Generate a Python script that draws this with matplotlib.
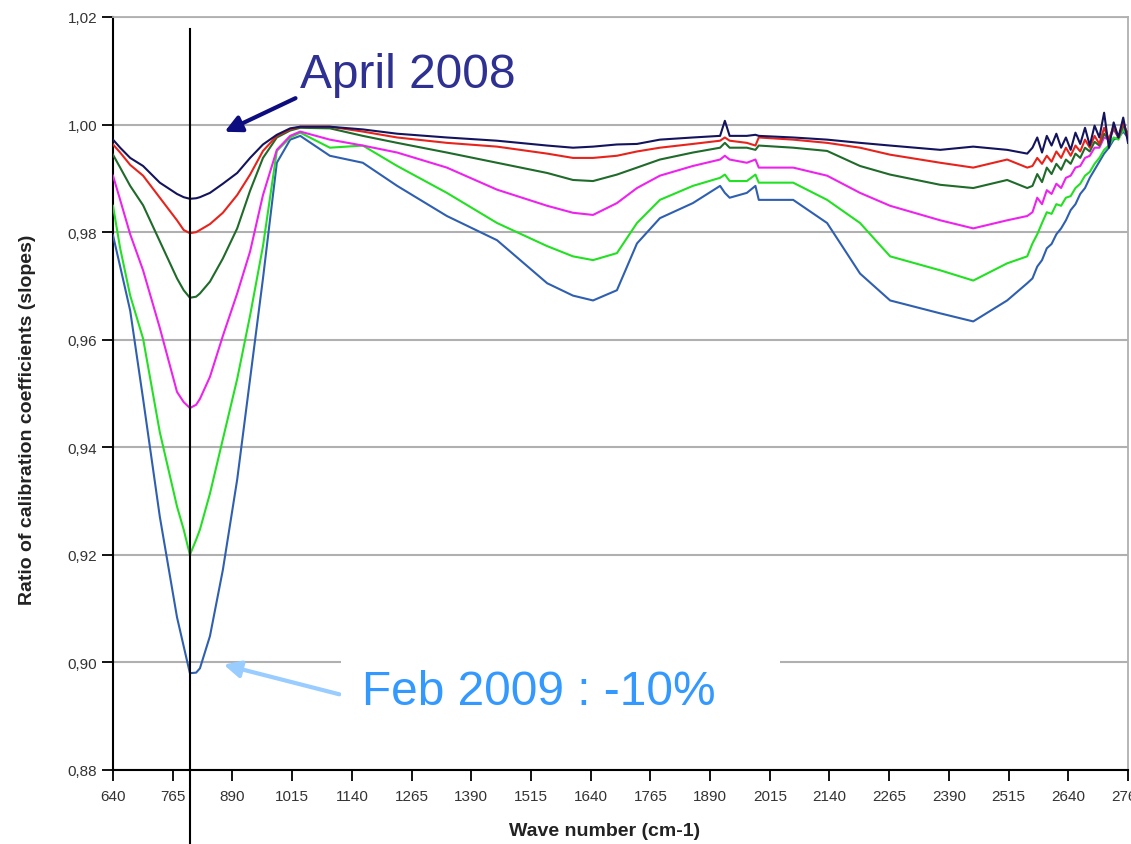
import matplotlib
matplotlib.use("Agg")
import matplotlib.pyplot as plt
import matplotlib.transforms as mtransforms
from matplotlib.patches import Rectangle

plt.rcParams['font.family'] = ['Liberation Sans', 'DejaVu Sans']

# wave numbers (cm-1) shared by all series
wave = [640, 655, 676, 703, 738, 774, 788, 801, 814, 822, 843, 870, 900, 927, 954, 983,
        1011, 1032, 1094, 1163, 1235, 1339, 1444, 1549, 1603, 1645, 1695, 1737,
        1785, 1854, 1911, 1921, 1931, 1967, 1985, 1992, 2064, 2135, 2204, 2267,
        2372, 2441, 2512, 2554,
        2565, 2575, 2585, 2595, 2605, 2615, 2625, 2635, 2645, 2655, 2665, 2675,
        2685, 2695, 2705, 2715, 2725, 2735, 2745, 2755, 2765]

apr_2008 = [0.9972, 0.9957, 0.9938, 0.9923, 0.9892, 0.9871, 0.9865, 0.9862, 0.9863, 0.9865,
            0.9873, 0.9890,
            0.9910, 0.9938, 0.9963, 0.9981, 0.9993, 0.9996, 0.9996, 0.9991, 0.9983, 0.9976,
            0.9970, 0.9961, 0.9957, 0.9959, 0.9963, 0.9964, 0.9972, 0.9976, 0.9979, 1.0007,
            0.9979, 0.9979, 0.9981, 0.9979, 0.9976, 0.9972, 0.9966, 0.9961, 0.9953, 0.9959,
            0.9953, 0.9946,
            0.9957, 0.9976, 0.9948, 0.9979, 0.9961, 0.9983, 0.9957, 0.9976, 0.9953, 0.9985,
            0.9964, 0.9994, 0.9961, 0.9998, 0.9976, 1.0022, 0.9957, 1.0004, 0.9976, 1.0013,
            0.9966]

series_2 = [0.9963, 0.9948, 0.9925, 0.9905, 0.9864, 0.9822, 0.9804, 0.9798, 0.9800, 0.9804,
            0.9815, 0.9836,
            0.9869, 0.9907, 0.9951, 0.9979, 0.9991, 0.9996, 0.9996, 0.9987, 0.9976, 0.9966,
            0.9959, 0.9946, 0.9938, 0.9938, 0.9942, 0.9950, 0.9957, 0.9964, 0.9970, 0.9976,
            0.9970, 0.9966, 0.9961, 0.9976, 0.9972, 0.9966, 0.9957, 0.9944, 0.9929, 0.9920,
            0.9935, 0.9920,
            0.9923, 0.9938, 0.9927, 0.9942, 0.9931, 0.9950, 0.9938, 0.9957, 0.9942, 0.9961,
            0.9950, 0.9972, 0.9957, 0.9979, 0.9964, 0.9994, 0.9972, 0.9998, 0.9976, 1.0004,
            0.9979]

series_3 = [0.9944, 0.9920, 0.9886, 0.9850, 0.9783, 0.9714, 0.9692, 0.9678, 0.9680, 0.9686,
            0.9708, 0.9751,
            0.9807, 0.9877, 0.9938, 0.9976, 0.9989, 0.9994, 0.9993, 0.9979, 0.9966, 0.9948,
            0.9929, 0.9910, 0.9897, 0.9895, 0.9907, 0.9920, 0.9935, 0.9948, 0.9957, 0.9966,
            0.9957, 0.9957, 0.9953, 0.9961, 0.9957, 0.9951, 0.9923, 0.9907, 0.9888, 0.9882,
            0.9897, 0.9882,
            0.9886, 0.9908, 0.9893, 0.9920, 0.9908, 0.9927, 0.9916, 0.9935, 0.9927, 0.9946,
            0.9938, 0.9957, 0.9950, 0.9968, 0.9961, 0.9983, 0.9972, 0.9994, 0.9976, 0.9998,
            0.9983]

series_4 = [0.9905, 0.9860, 0.9796, 0.9729, 0.9622, 0.9503, 0.9484, 0.9473, 0.9479, 0.9490,
            0.9531, 0.9607,
            0.9686, 0.9764, 0.9869, 0.9953, 0.9979, 0.9987, 0.9972, 0.9961, 0.9948, 0.9920,
            0.9879, 0.9849, 0.9836, 0.9832, 0.9854, 0.9882, 0.9905, 0.9923, 0.9935, 0.9942,
            0.9935, 0.9929, 0.9935, 0.9920, 0.9920, 0.9905, 0.9873, 0.9849, 0.9822, 0.9807,
            0.9822, 0.9830,
            0.9837, 0.9864, 0.9852, 0.9878, 0.9871, 0.9890, 0.9882, 0.9901, 0.9905, 0.9920,
            0.9923, 0.9938, 0.9942, 0.9957, 0.9957, 0.9976, 0.9972, 0.9991, 0.9976, 0.9998,
            0.9983]

series_5 = [0.9849, 0.9770, 0.9682, 0.9602, 0.9428, 0.9290, 0.9247, 0.9200, 0.9228, 0.9247,
            0.9314, 0.9415,
            0.9527, 0.9645, 0.9774, 0.9951, 0.9976, 0.9985, 0.9957, 0.9961, 0.9923, 0.9873,
            0.9817, 0.9774, 0.9755, 0.9748, 0.9761, 0.9817, 0.9860, 0.9886, 0.9901, 0.9907,
            0.9895, 0.9895, 0.9907, 0.9892, 0.9892, 0.9860, 0.9817, 0.9755, 0.9729, 0.9710,
            0.9742, 0.9755,
            0.9779, 0.9796, 0.9817, 0.9837, 0.9834, 0.9852, 0.9849, 0.9864, 0.9867, 0.9882,
            0.9890, 0.9905, 0.9912, 0.9927, 0.9938, 0.9953, 0.9961, 0.9976, 0.9972, 0.9991,
            0.9979]

feb_2009 = [0.9794, 0.9736, 0.9654, 0.9490, 0.9271, 0.9084, 0.9030, 0.8980, 0.8981, 0.8989,
            0.9049, 0.9172,
            0.9340, 0.9527, 0.9714, 0.9929, 0.9972, 0.9979, 0.9942, 0.9929, 0.9886, 0.9830,
            0.9785, 0.9705, 0.9682, 0.9673, 0.9692, 0.9779, 0.9826, 0.9854, 0.9886, 0.9873,
            0.9864, 0.9873, 0.9886, 0.9860, 0.9860, 0.9817, 0.9723, 0.9673, 0.9649, 0.9634,
            0.9673, 0.9705,
            0.9714, 0.9736, 0.9748, 0.9770, 0.9778, 0.9796, 0.9807, 0.9822, 0.9841, 0.9852,
            0.9871, 0.9882, 0.9901, 0.9916, 0.9931, 0.9946, 0.9957, 0.9972, 0.9976, 0.9987,
            0.9976]

tick_waves = [640, 765, 890, 1015, 1140, 1265, 1390, 1515, 1640, 1765, 1890,
              2015, 2140, 2265, 2390, 2515, 2640, 2765]
y_ticks = [0.88, 0.90, 0.92, 0.94, 0.96, 0.98, 1.00, 1.02]
marker_wave = 801

fig = plt.figure(figsize=(11.31, 8.45), dpi=100)
ax = fig.add_axes([113 / 1131, 1 - 771 / 845, 1015 / 1131, 753 / 845])

# newest series first so the April 2008 curve sits on top
curves = [(feb_2009, '#2f5fb0'), (series_5, '#22e022'), (series_4, '#ee22ee'),
          (series_3, '#1f6b2a'), (series_2, '#e8231c'), (apr_2008, '#14145e')]
for vals, col in curves:
    ax.plot(wave, vals, color=col, lw=1.5, zorder=3)

ax.set_xlim(640, 2765)
ax.set_ylim(0.88, 1.02)
ax.set_xticks(tick_waves)
ax.set_xticklabels([str(t) for t in tick_waves])
ax.set_yticks(y_ticks)
ax.set_yticklabels([f"{v:.2f}".replace('.', ',') for v in y_ticks])
ax.tick_params(axis='both', direction='out', length=8, width=1.3,
               labelsize=11, labelcolor='#333333')
ax.tick_params(axis='x', pad=6)
ax.grid(axis='y', color='#b0b0b0', lw=1.5, zorder=1)
ax.set_axisbelow(True)
for side in ('left', 'bottom'):
    ax.spines[side].set_color('black')
    ax.spines[side].set_linewidth(1.5)
for side in ('top', 'right'):
    ax.spines[side].set_color('#b0b0b0')
    ax.spines[side].set_linewidth(1.3)

# vertical marker at the band minimum, running past the plot area
trans = mtransforms.blended_transform_factory(ax.transData, fig.transFigure)
ax.plot([marker_wave, marker_wave], [1 - 30 / 845, 0], color='black', lw=1.5,
        transform=trans, clip_on=False, zorder=5)

# white box under the Feb 2009 label
fig.patches.append(Rectangle((341 / 1131, 1 - 735 / 845), 439 / 1131, 95 / 845,
                             transform=fig.transFigure, facecolor='white',
                             edgecolor='none', zorder=4))

fig.text(300 / 1131, 1 - 75 / 845, 'April 2008', color='#2e3192', fontsize=34.5,
         va='center', ha='left', zorder=6)
ax.annotate('', xy=(222, 845 - 134), xycoords='figure pixels',
            xytext=(298, 845 - 98), textcoords='figure pixels',
            arrowprops=dict(arrowstyle='-|>,head_length=1.0,head_width=0.5',
                            color='#0d0d80', lw=3), zorder=6)

fig.text(362 / 1131, 1 - 693 / 845, 'Feb 2009 : -10%', color='#3399ff', fontsize=34.5,
         va='center', ha='left', zorder=6)
ax.annotate('', xy=(221, 845 - 665), xycoords='figure pixels',
            xytext=(342, 845 - 696), textcoords='figure pixels',
            arrowprops=dict(arrowstyle='-|>,head_length=1.0,head_width=0.5',
                            color='#99ccff', lw=3), zorder=6)

fig.text(605 / 1131, 1 - 832 / 845, 'Wave number (cm-1)', fontsize=14,
         fontweight='bold', color='#222222', ha='center', va='center')
fig.text(28 / 1131, 1 - 420 / 845, 'Ratio of calibration coefficients (slopes)',
         fontsize=14, fontweight='bold', color='#222222', rotation=90,
         ha='center', va='center')

fig.savefig('out.png', dpi=100, facecolor='white')
